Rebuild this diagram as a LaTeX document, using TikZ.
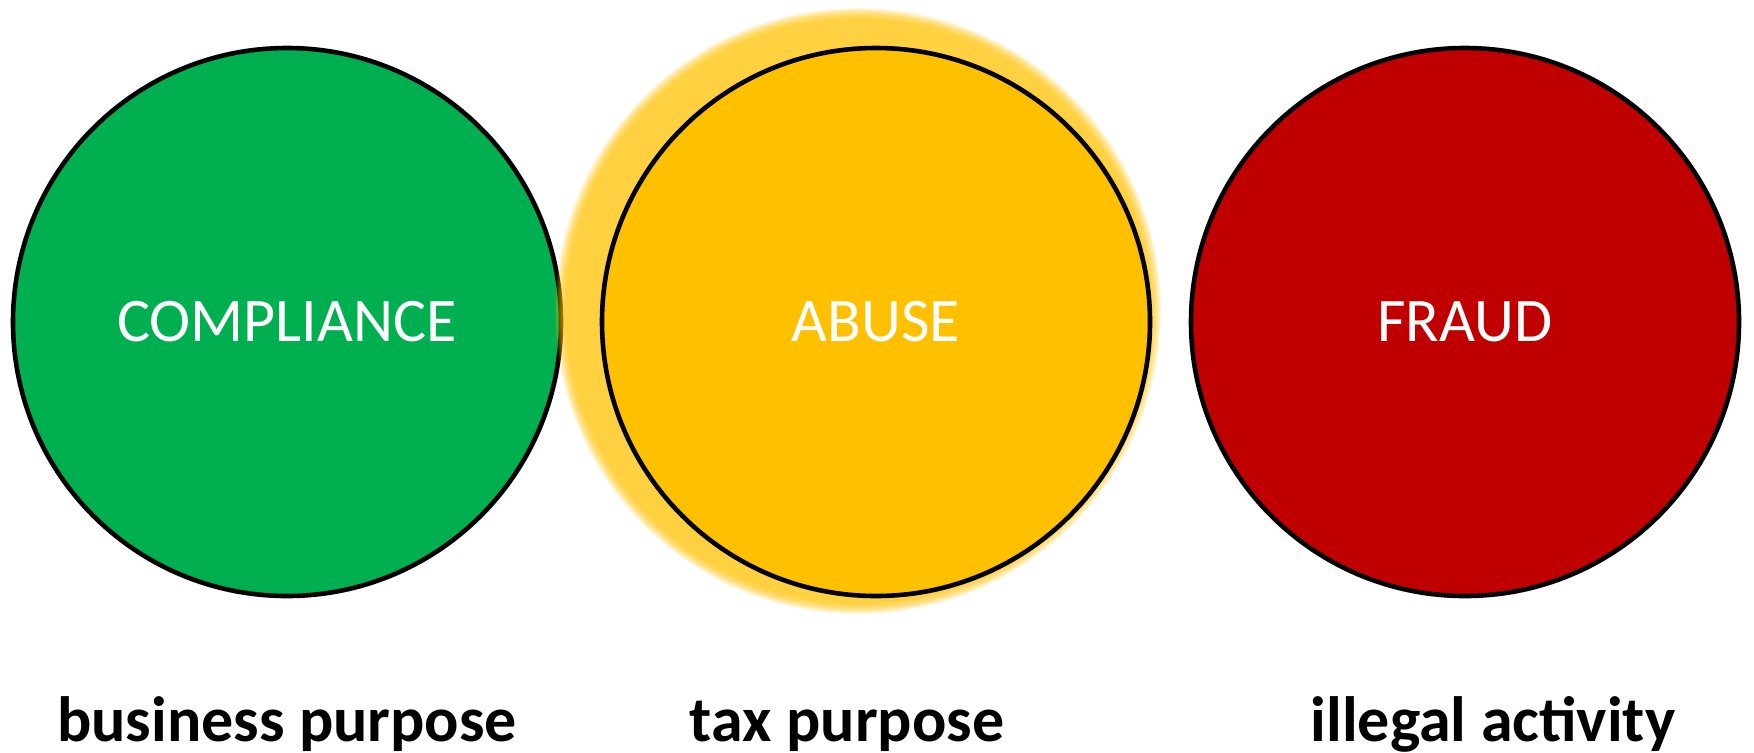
\documentclass[tikz,border=0pt]{standalone}
\usepackage{fontspec}
\setmainfont{Carlito}
\definecolor{compgreen}{HTML}{00B050}
\definecolor{abuseyellow}{HTML}{FFC000}
\definecolor{fraudred}{HTML}{C00000}

\begin{document}
\begin{tikzpicture}[
 x=0.5pt, y=-0.5pt,
 zone/.style={circle, draw=black, line width=2.3pt, minimum size=274pt, inner sep=0pt, text=white, font=\fontsize{31}{36}\selectfont},
 purpose/.style={anchor=base, font=\bfseries\fontsize{32}{38}\selectfont}
]
\useasboundingbox (0,0) rectangle (1754,752);
\node[zone, fill=compgreen] (compliance) at (287,322) {COMPLIANCE};
\coordinate (glow) at (858,311);
\foreach \k in {0,...,9}
  \fill[abuseyellow, opacity=0.13] (glow) circle [radius={151.5pt-0.6pt*\k}];
\node[zone, fill=abuseyellow] (abuse) at (876,322) {ABUSE};
\node[zone, fill=fraudred] (fraud) at (1465,322) {FRAUD};
\node[purpose] (business) at (287,741) {business purpose};
\node[purpose] (tax) at (847,741) {tax purpose};
\node[purpose] (illegal) at (1493,741) {illegal activity};
\end{tikzpicture}
\end{document}
